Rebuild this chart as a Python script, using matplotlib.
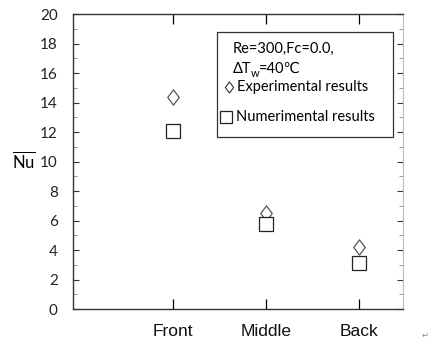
import matplotlib
matplotlib.use('Agg')
import matplotlib.pyplot as plt
from matplotlib.patches import Rectangle
from matplotlib.path import Path
from matplotlib.ticker import MultipleLocator

# data
categories = ['Front', 'Middle', 'Back']
experimental = [14.4, 6.5, 4.2]
numerical = [12.1, 5.8, 3.1]
y_ticks = [0, 2, 4, 6, 8, 10, 12, 14, 16, 18, 20]

plt.rcParams['font.family'] = ['Lato', 'DejaVu Sans']
plt.rcParams['mathtext.fontset'] = 'custom'
plt.rcParams['mathtext.rm'] = 'Lato'

# slightly narrow diamond like the original
diamond = Path([(0, 1), (0.75, 0), (0, -1), (-0.75, 0), (0, 1)],
               [Path.MOVETO, Path.LINETO, Path.LINETO, Path.LINETO, Path.CLOSEPOLY])

fig = plt.figure(figsize=(4.32, 3.45), dpi=100)
ax = fig.add_axes([0.169, 0.104, 0.764, 0.855])

x = [1, 2, 3]
ax.plot(x, experimental, linestyle='none', marker=diamond, markersize=11,
        markerfacecolor='white', markeredgecolor='#555555', markeredgewidth=0.9)
ax.plot(x, numerical, linestyle='none', marker='s', markersize=10,
        markerfacecolor='white', markeredgecolor='#222222', markeredgewidth=0.9)

ax.set_xlim(-0.075, 3.47)
ax.set_ylim(0, 20)
ax.set_yticks(y_ticks)
ax.yaxis.set_minor_locator(MultipleLocator(1))
ax.set_xticks(x)
ax.set_xticklabels(categories, family=['Liberation Sans'], fontsize=12.5)
ax.tick_params(axis='y', labelsize=11, direction='in', length=4, width=0.8,
               right=True, pad=11, colors='#333333', labelcolor='#222222')
ax.tick_params(axis='y', which='minor', direction='in', length=3, width=0.6,
               right=True, colors='#888888')
ax.tick_params(axis='x', direction='in', length=7, width=0.9, top=True, pad=11,
               labelcolor='#111111')
for s in ['left', 'bottom', 'top']:
    ax.spines[s].set_linewidth(1.0)
    ax.spines[s].set_color('#333333')
ax.spines['right'].set_color('#bbbbbb')
ax.spines['right'].set_linewidth(0.8)

fig.text(0.056, 0.535, r'$\overline{\mathrm{Nu}}$', fontsize=12, ha='center', va='center')

# legend box drawn by hand
fs = 10.5
ax.add_patch(Rectangle((0.436, 0.583), 0.534, 0.356, transform=ax.transAxes,
                       facecolor='white', edgecolor='#333333', linewidth=0.9, zorder=3))
ax.text(0.485, 0.881, 'Re=300,Fc=0.0,', transform=ax.transAxes, fontsize=fs,
        va='center', zorder=4)
t1 = ax.text(0.485, 0.814, 'ΔT', transform=ax.transAxes, fontsize=fs,
             va='center', zorder=4)
ax.annotate('w', xy=(1, 0), xycoords=t1, xytext=(-1, -0.5),
            textcoords='offset points', fontsize=fs * 0.75, va='baseline',
            zorder=4)
ax.annotate('=40℃', xy=(1, 0.5), xycoords=t1, xytext=(5.5, 0),
            textcoords='offset points', fontsize=fs, va='center', zorder=4)
ax.plot([0.473], [0.753], transform=ax.transAxes, marker=diamond, markersize=8,
        markerfacecolor='white', markeredgecolor='#333333', markeredgewidth=0.8,
        clip_on=False, zorder=4)
ax.text(0.497, 0.753, 'Experimental results', transform=ax.transAxes, fontsize=fs,
        va='center', zorder=4)
ax.plot([0.464], [0.651], transform=ax.transAxes, marker='s', markersize=8.5,
        markerfacecolor='white', markeredgecolor='#222222', markeredgewidth=0.9,
        clip_on=False, zorder=4)
ax.text(0.494, 0.651, 'Numerimental results', transform=ax.transAxes, fontsize=fs,
        va='center', zorder=4)

fig.text(0.985, 0.02, '↵', fontsize=6, color='#888888', ha='center',
         family=['DejaVu Sans'])

fig.savefig('out.png', dpi=100)
